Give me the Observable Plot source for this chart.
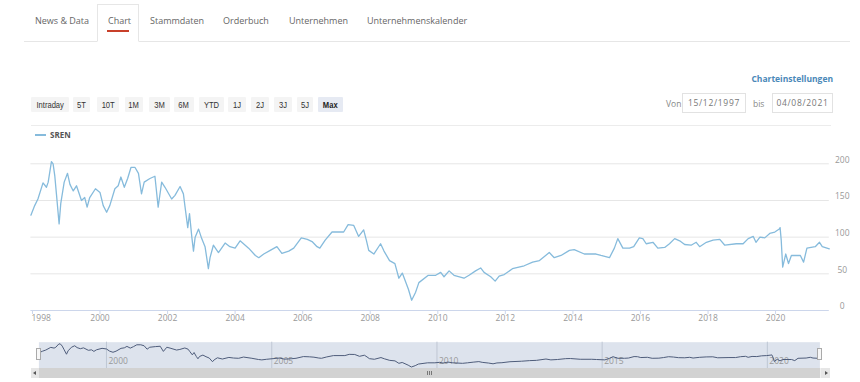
<!DOCTYPE html>
<html><head><meta charset="utf-8">
<script src="https://cdn.jsdelivr.net/npm/d3@7"></script>
<script src="https://cdn.jsdelivr.net/npm/@observablehq/plot@0.6"></script>
<style>
body{margin:0;background:#fff;width:860px;height:382px;overflow:hidden;position:relative;font-family:"Open Sans",sans-serif}
.a{position:absolute}
.tab{position:absolute;top:14px;line-height:14px;font-size:9px;color:#666;white-space:nowrap}
.btn{position:absolute;top:97px;height:15px;line-height:15px;background:#f4f4f4;color:#333;font-family:"Liberation Sans",Arial,sans-serif;font-size:9.5px;text-align:center;border-radius:1px;white-space:nowrap}
.btn span{display:inline-block;transform:scaleX(0.8)}
.box{position:absolute;top:93px;height:20px;border:1px solid #e2e2e2;box-sizing:border-box;line-height:18px;font-size:8.5px;color:#777;text-align:center;letter-spacing:0.7px}
.lbl{position:absolute;top:96px;line-height:16px;font-size:8.5px;color:#888}
#main{position:absolute;left:0;top:140px}
#nav{position:absolute;left:0;top:338px}
</style></head>
<body>
<div class="a" style="left:24px;top:41px;width:826px;height:1px;background:#e6e6e6"></div>
<div class="a" style="left:97px;top:4px;width:42px;height:38px;border:1px solid #e6e6e6;border-bottom:1px solid #fff;box-sizing:border-box;background:#fff"></div>
<div class="a" style="left:107px;top:30px;width:22px;height:2px;background:#c8402a"></div>
<div class="tab" style="left:35px">News &amp; Data</div>
<div class="tab" style="left:108px">Chart</div>
<div class="tab" style="left:150px">Stammdaten</div>
<div class="tab" style="left:223px">Orderbuch</div>
<div class="tab" style="left:289px">Unternehmen</div>
<div class="tab" style="left:367px">Unternehmenskalender</div>

<div class="a" style="right:27px;top:72px;line-height:14px;font-size:8.5px;font-weight:bold;color:#4a88b8">Charteinstellungen</div>

<div class="btn" style="left:31px;width:38px"><span>Intraday</span></div>
<div class="btn" style="left:73px;width:17px"><span>5T</span></div>
<div class="btn" style="left:97px;width:22px"><span>10T</span></div>
<div class="btn" style="left:125px;width:18px"><span>1M</span></div>
<div class="btn" style="left:149px;width:21px"><span>3M</span></div>
<div class="btn" style="left:174px;width:20px"><span>6M</span></div>
<div class="btn" style="left:199px;width:25px"><span>YTD</span></div>
<div class="btn" style="left:228px;width:18px"><span>1J</span></div>
<div class="btn" style="left:251px;width:18px"><span>2J</span></div>
<div class="btn" style="left:274px;width:18px"><span>3J</span></div>
<div class="btn" style="left:297px;width:16px"><span>5J</span></div>
<div class="btn" style="left:318px;width:25px;background:#e6eaf3;font-weight:bold;color:#222"><span>Max</span></div>

<div class="lbl" style="left:666px">Von</div>
<div class="box" style="left:682px;width:64px">15/12/1997</div>
<div class="lbl" style="left:753px">bis</div>
<div class="box" style="left:772px;width:61px">04/08/2021</div>

<div class="a" style="left:31px;top:125px;width:800px;height:1px;background:#ececec"></div>
<div class="a" style="left:35px;top:134px;width:11px;height:2px;background:#86bbdc"></div>
<div class="a" style="left:50px;top:129px;line-height:12px;font-size:8px;font-weight:bold;color:#555">SREN</div>

<div id="main"></div>
<div id="nav"></div>

<div class="a" style="left:31px;top:368px;width:799px;height:10px;background:#f0f0f0"></div>
<div class="a" style="left:39px;top:368px;width:781px;height:10px;background:#d2d2d2"></div>
<div class="a" style="left:31px;top:368px;width:8px;height:10px;background:#e6e6e6"></div>
<div class="a" style="left:33px;top:371px;width:0;height:0;border-top:2px solid transparent;border-bottom:2px solid transparent;border-right:3px solid #555"></div>
<div class="a" style="left:821px;top:368px;width:9px;height:10px;background:#e6e6e6"></div>
<div class="a" style="left:825px;top:371px;width:0;height:0;border-top:2px solid transparent;border-bottom:2px solid transparent;border-left:3px solid #555"></div>
<div class="a" style="left:427px;top:371px;width:1px;height:4px;background:#777"></div>
<div class="a" style="left:429px;top:371px;width:1px;height:4px;background:#777"></div>
<div class="a" style="left:431px;top:371px;width:1px;height:4px;background:#777"></div>
<div class="a" style="left:36px;top:348px;width:5px;height:12px;background:#f7f7f7;border:1px solid #aaa;box-sizing:border-box"></div>
<div class="a" style="left:817px;top:348px;width:5px;height:12px;background:#f7f7f7;border:1px solid #aaa;box-sizing:border-box"></div>

<script>
const dates = ["1997-12-15","1998-01-25","1998-03-01","1998-04-25","1998-06-01","1998-06-20","1998-07-25","1998-08-12","1998-08-30","1998-09-17","1998-10-16","1998-11-03","1998-12-10",
"1999-01-15","1999-02-10","1999-03-18","1999-04-22","1999-06-15","1999-07-20","1999-08-15","1999-09-12","1999-11-13",
"2000-01-01","2000-02-05","2000-03-13","2000-04-16","2000-06-10","2000-07-16","2000-08-14","2000-09-20","2000-10-26","2000-12-01",
"2001-01-14","2001-02-20","2001-03-25","2001-04-23","2001-06-24","2001-08-17","2001-09-21","2001-10-29","2001-12-04",
"2002-02-14","2002-03-22","2002-05-16","2002-06-21","2002-07-09","2002-08-07","2002-08-26","2002-09-20","2002-10-08","2002-10-26","2002-12-02",
"2003-01-05","2003-02-10","2003-03-18","2003-04-05","2003-05-11","2003-07-05","2003-09-15","2003-11-06",
"2004-01-01","2004-02-24","2004-05-26","2004-08-07","2004-09-13","2004-11-06",
"2005-01-15","2005-03-28","2005-05-21","2005-08-03","2005-09-26","2005-12-17",
"2006-02-20","2006-04-12","2006-06-05","2006-07-05","2006-09-01","2006-11-14",
"2007-03-20","2007-05-07","2007-07-07","2007-08-29","2007-10-22","2007-11-20","2007-12-16",
"2008-02-09","2008-04-22","2008-05-29","2008-07-28","2008-09-24","2008-11-06","2008-12-13",
"2009-02-17","2009-03-24","2009-05-06","2009-06-10","2009-09-20","2009-12-09",
"2010-02-01","2010-03-09","2010-05-03","2010-06-25","2010-10-11","2010-12-05",
"2011-02-13","2011-04-09","2011-05-16","2011-07-27","2011-09-13","2011-10-26","2011-12-20",
"2012-03-18","2012-07-23","2012-10-22",
"2013-01-04","2013-04-20","2013-06-13","2013-08-25","2013-11-24",
"2014-01-15","2014-05-04","2014-09-08","2014-10-31",
"2015-01-31","2015-03-25","2015-05-01","2015-06-25","2015-09-05","2015-10-20","2015-12-20",
"2016-01-27","2016-03-03","2016-05-15","2016-07-07","2016-09-19","2016-11-10",
"2017-01-05","2017-02-28","2017-04-23","2017-07-02","2017-08-26","2017-10-02","2017-12-14",
"2018-02-24","2018-05-08","2018-07-01","2018-11-03",
"2019-01-15","2019-03-11","2019-05-05","2019-06-03","2019-07-16","2019-09-06","2019-10-30","2019-12-24",
"2020-02-10","2020-02-19","2020-03-02","2020-03-18","2020-04-20","2020-05-20","2020-06-20","2020-09-25","2020-10-30","2020-12-05",
"2021-03-05","2021-04-20","2021-05-20","2021-08-04"];
const values = [130,143,152,174,168,175,203,200,184,159,118,146,175,
187,172,163,170,150,154,141,154,166,
161,143,134,143,166,170,182,168,180,195,
195,187,159,175,180,183,141,175,168,
152,157,169,159,141,113,132,100,81,100,111,
98,87,57,72,89,79,92,87,
85,95,85,75,72,77,
82,87,78,81,85,99,
97,94,87,85,96,107,
107,117,116,101,110,96,82,
77,91,81,68,64,44,51,
29,14,25,38,48,48,
52,46,54,48,44,48,
54,58,52,46,40,47,49,
57,61,66,
68,79,72,75,82,
83,77,77,75,
72,85,98,85,85,87,99,
98,91,93,85,86,91,
98,95,90,89,93,87,93,
96,97,89,91,
91,98,101,93,100,99,105,107,
111,113,96,59,77,64,75,75,66,85,
87,93,87,84];
const yTicks = [0, 50, 100, 150, 200];
const xTickYears = [1998,2000,2002,2004,2006,2008,2010,2012,2014,2016,2018,2020];
const navTickYears = [2000,2005,2010,2015,2020];
const seriesName = "SREN";

const data = dates.map((d, i) => ({date: new Date(d), value: values[i]}));
const xDomain = [data[0].date, data[data.length - 1].date];
const xTicks = xTickYears.map(y => new Date(Date.UTC(y, 0, 1)));
const navTicks = navTickYears.map(y => new Date(Date.UTC(y, 0, 1)));
const lineColor = "#86bbdc";

const main = Plot.plot({
  width: 860, height: 190,
  marginLeft: 30.4, marginRight: 31.2, marginTop: 23.3, marginBottom: 20,
  x: {type: "utc", domain: xDomain},
  y: {domain: [0, 200], axis: null},
  style: {fontFamily: "Open Sans, sans-serif", fontSize: "8.5px", background: "transparent"},
  marks: [
    Plot.gridY(yTicks.filter(v => v > 0), {stroke: "#e6e6e6", strokeOpacity: 1}),
    Plot.ruleY([0], {stroke: "#ccd6eb"}),
    Plot.axisX(xTicks, {tickSize: 4, tickPadding: 0, stroke: "#ccd6eb", fill: "#999", label: null,
      tickFormat: d => d.getUTCFullYear() === xTickYears[0] ? "" : String(d.getUTCFullYear())}),
    Plot.text(xTicks.slice(0, 1), {x: d => d, frameAnchor: "bottom", lineAnchor: "top", dy: 4, dx: -1,
      textAnchor: "start", text: d => String(d.getUTCFullYear()), fill: "#999"}),
    Plot.text(yTicks, {y: d => d, frameAnchor: "right", dx: 13, dy: -4, textAnchor: "middle",
      text: d => String(d), fill: "#999"}),
    Plot.line(data, {x: "date", y: "value", stroke: lineColor, strokeWidth: 1.3})
  ]
});
document.getElementById("main").appendChild(main);

const nav = Plot.plot({
  width: 860, height: 32,
  marginLeft: 38.4, marginRight: 40.6, marginTop: 5.3, marginBottom: 3.5,
  x: {type: "utc", domain: xDomain, axis: null},
  y: {domain: d3.extent(values), axis: null},
  style: {fontFamily: "Open Sans, sans-serif", fontSize: "8.5px", background: "transparent"},
  marks: [
    Plot.frame({fill: "#dde3ed", stroke: null, insetTop: -1.6, insetBottom: -1.5}),
    Plot.ruleX(navTicks, {x: d => d, stroke: "#bfc7d4", insetTop: -1.6, insetBottom: -1.5}),
    Plot.text(navTicks, {x: d => d, frameAnchor: "bottom", dx: 2, dy: -3.2, textAnchor: "start",
      text: d => String(d.getUTCFullYear()), fill: "#999"}),
    Plot.line(data, {x: "date", y: "value", stroke: "#4f5d7b", strokeWidth: 1})
  ]
});
document.getElementById("nav").appendChild(nav);
</script>
</body></html>
